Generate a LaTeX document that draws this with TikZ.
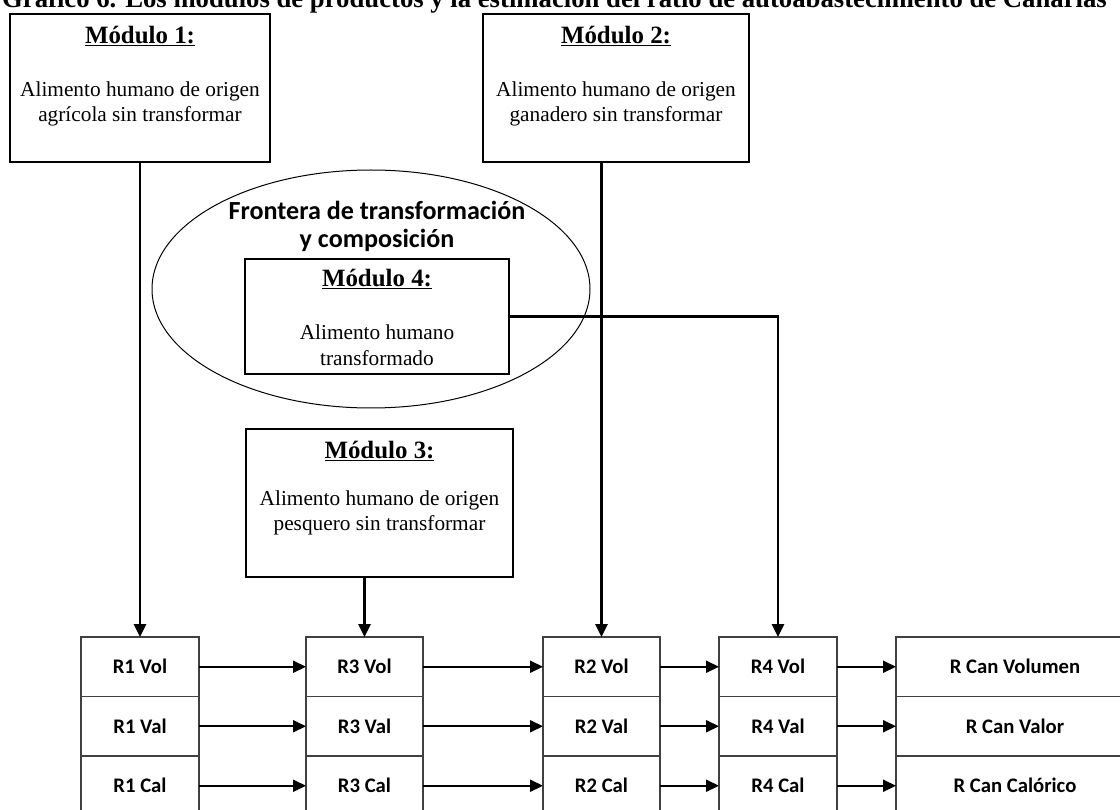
\documentclass[tikz,border=0pt]{standalone}
\usepackage{fontspec}
\setmainfont{Liberation Serif}
\newfontfamily\calibri{Carlito}
\usetikzlibrary{arrows.meta,shapes.geometric}
\tikzset{
  modbox/.style={draw, line width=2pt, inner sep=0pt},
  modtitle/.style={inner sep=1pt, font=\fontsize{24.9}{28}\selectfont\bfseries},
  modtext/.style={align=center, inner sep=1pt, font=\fontsize{21.3}{25.5}\selectfont},
  cell/.style={draw=black!75, line width=1.2pt, minimum height=59.5pt, inner sep=0pt, outer sep=0pt,
    font=\calibri\bfseries\fontsize{20.7}{24}\selectfont},
  conn/.style={line width=2.7pt, -{Triangle[length=13pt,width=12pt]}},
  flow/.style={line width=2pt, -{Triangle[length=13pt,width=12pt]}},
}
\begin{document}
\begin{tikzpicture}[x=1pt, y=-1pt]
  \useasboundingbox (0,0) rectangle (1120,810);
  \node[anchor=base west, inner sep=0pt, font=\fontsize{26.7}{30}\selectfont\bfseries] (titulo) at (2,8)
    {Gráfico 6. Los módulos de productos y la estimación del ratio de autoabastecimiento de Canarias};

  % frontera
  \node[draw, ellipse, line width=1pt, minimum width=438pt, minimum height=238pt, inner sep=0pt] (frontera) at (371,289) {};
  \node[align=center, font=\calibri\bfseries\fontsize{26.1}{28}\selectfont] (fronteratxt) at (377,226)
    {Frontera de transformación\\y composición};

  % modulos
  \node[modbox, minimum width=260pt, minimum height=148pt] (m1) at (140,88) {};
  \node[modtitle] (m1title) at ([yshift=-23pt]m1.north) {\underline{Módulo 1:}};
  \node[modtext] (m1text) at ([yshift=-91pt]m1.north) {Alimento humano de origen\\agrícola sin transformar};

  \node[modbox, minimum width=266pt, minimum height=148pt] (m2) at (616,88) {};
  \node[modtitle] (m2title) at ([yshift=-23pt]m2.north) {\underline{Módulo 2:}};
  \node[modtext] (m2text) at ([yshift=-91pt]m2.north) {Alimento humano de origen\\ganadero sin transformar};

  \node[modbox, minimum width=264pt, minimum height=115pt] (m4) at (377,316.5) {};
  \node[modtitle] (m4title) at ([yshift=-21pt]m4.north) {\underline{Módulo 4:}};
  \node[modtext] (m4text) at ([yshift=-87pt]m4.north) {Alimento humano\\transformado};

  \node[modbox, minimum width=267pt, minimum height=148pt] (m3) at (379.5,503) {};
  \node[modtitle] (m3title) at ([yshift=-23pt]m3.north) {\underline{Módulo 3:}};
  \node[modtext] (m3text) at ([yshift=-85pt]m3.north) {Alimento humano de origen\\pesquero sin transformar};

  % ratios
  \foreach \col/\x/\w in {1/140/118, 3/364.5/117, 2/601.5/117, 4/778/118} {
    \node[cell, minimum width={\w pt}] (r\col-vol) at (\x,666.75) {R\col\ Vol};
    \node[cell, minimum width={\w pt}] (r\col-val) at (\x,726.25) {R\col\ Val};
    \node[cell, minimum width={\w pt}] (r\col-cal) at (\x,785.75) {R\col\ Cal};
  }
  \node[cell, minimum width=238pt] (rcan-vol) at (1015,666.75) {R Can Volumen};
  \node[cell, minimum width=238pt] (rcan-val) at (1015,726.25) {R Can Valor};
  \node[cell, minimum width=238pt] (rcan-cal) at (1015,785.75) {R Can Calórico};

  \foreach \row in {vol,val,cal} {
    \draw[flow] (r1-\row) -- (r3-\row);
    \draw[flow] (r3-\row) -- (r2-\row);
    \draw[flow] (r2-\row) -- (r4-\row);
    \draw[flow] (r4-\row) -- (rcan-\row);
  }

  % conexiones
  \draw[conn] (m1.south) -- (r1-vol.north);
  \draw[conn] (r2-vol.north |- m2.south) -- (r2-vol.north);
  \draw[conn] (r3-vol.north |- m3.south) -- (r3-vol.north);
  \draw[conn] (m4.east) -| (r4-vol.north);
\end{tikzpicture}
\end{document}
